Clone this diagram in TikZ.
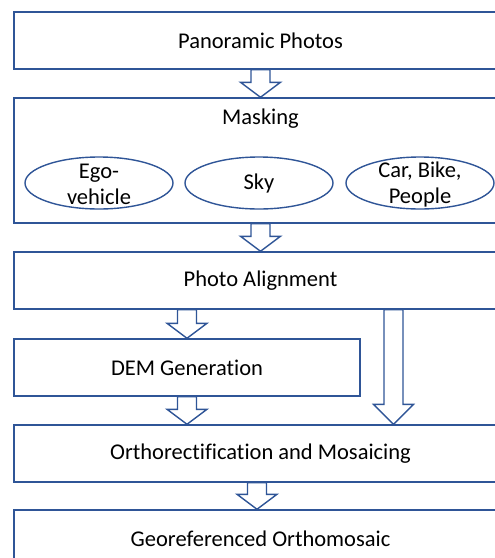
\documentclass[tikz,border=0pt]{standalone}
\usepackage{fontspec}
\setmainfont{Carlito}[Ligatures=NoCommon]
\usepackage{tikz}
\usetikzlibrary{shapes.geometric,calc}

\definecolor{boxblue}{HTML}{2F5597}

\tikzset{
  stage/.style={draw=boxblue, line width=1.4pt, rectangle, minimum width=493pt,
    minimum height=57pt, inner sep=0pt, font=\fontsize{22.5}{26}\selectfont},
  maskitem/.style={draw=boxblue, line width=1.4pt, ellipse, minimum width=148pt,
    minimum height=52pt, inner sep=0pt},
  itemtext/.style={align=center, inner sep=0pt, font=\fontsize{22.5}{26}\selectfont},
  blockarrow/.style={draw=boxblue, line width=1.4pt, fill=white, line join=miter}
}

% hollow block arrow: [head length]{start}{end}
\newcommand{\hollowarrow}[3][15pt]{%
  \draw[blockarrow] let \p1=(#2), \p2=(#3) in
    (\x1-9.5pt,\y1) -- (\x1+9.5pt,\y1) -- (\x1+9.5pt,\y2+#1) -- (\x1+20pt,\y2+#1)
    -- (\x1,\y2) -- (\x1-20pt,\y2+#1) -- (\x1-9.5pt,\y2+#1) -- cycle;}

\begin{document}
\begin{tikzpicture}[x=1pt, y=-1pt]
	\useasboundingbox (0,0) rectangle (495,558);
	\clip (0,0) rectangle (495,558);

	\node[stage] (photos) at (260.5,40.5) {Panoramic Photos};
	\node[stage, minimum height=125pt] (mask) at (260.5,160.5) {};
	\node[itemtext, anchor=base] (masktitle) at (260.5,124.5) {Masking};

	\node[maskitem] (ego) at (99,183) {};
	\node[maskitem] (sky) at (259,183) {};
	\node[maskitem] (traffic) at (420,183) {};
	\node[itemtext] (egotext) at ([yshift=-1.5pt]ego) {Ego-\\vehicle};
	\node[itemtext] (skytext) at (sky) {Sky};
	\node[itemtext] (traffictext) at ([yshift=-1.5pt]traffic) {Car, Bike,\\People};

	\node[stage] (align) at (260.5,280.5) {Photo Alignment};
	\node[stage, minimum width=346pt] (dem) at (187,367.5) {DEM Generation};
	\node[stage] (ortho) at (260.5,453.5) {Orthorectification and Mosaicing};
	\node[stage] (geo) at (260.5,538.5) {Georeferenced Orthomosaic};

	\hollowarrow{photos.south}{mask.north}
	\hollowarrow{mask.south}{align.north}
	\hollowarrow{dem.north |- align.south}{dem.north}
	\hollowarrow{dem.south}{ortho.north}
	\hollowarrow[20pt]{$(align.south)+(133,0)$}{ortho.north}
	\hollowarrow{$(ortho.south)+(-3.5,0)$}{geo.north}
\end{tikzpicture}
\end{document}
